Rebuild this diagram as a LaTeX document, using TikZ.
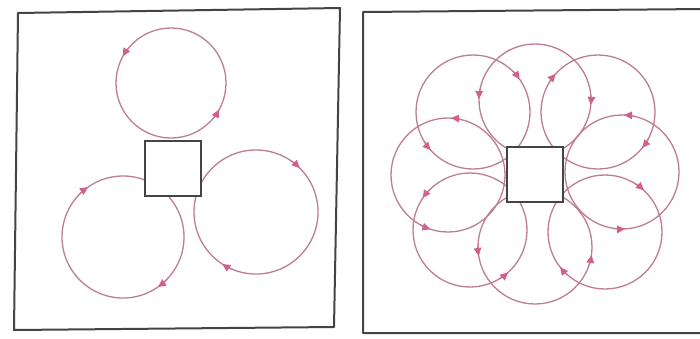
\documentclass[tikz,border=0pt]{standalone}
\usetikzlibrary{arrows.meta}
\definecolor{loopc}{RGB}{190,125,148}
\definecolor{tipc}{RGB}{212,96,136}
\definecolor{framec}{RGB}{68,68,68}
\tikzset{
  loopline/.style={draw=loopc, line width=1.3pt},
  tipline/.style={draw=loopc, line width=1.3pt, -{Triangle[length=8pt,width=7.5pt,color=tipc]}},
  frame/.style={draw=framec, line width=2pt, line join=round},
  box/.style={draw=framec, fill=white, line width=1.8pt},
}
% tip on circle centred at (#1,#2), radius #3, at screen angle #4 (clockwise from east)
\newcommand{\tipcw}[4]{\draw[tipline] (#1,#2) ++({#4-8}:#3) arc[start angle={#4-8}, end angle={#4+3}, radius=#3];}
\newcommand{\tipccw}[4]{\draw[tipline] (#1,#2) ++({#4+8}:#3) arc[start angle={#4+8}, end angle={#4-3}, radius=#3];}
\begin{document}
\begin{tikzpicture}[x=1pt,y=-1pt]
\useasboundingbox (0,0) rectangle (700,338);
\clip (0,0) rectangle (700,338);
\fill[white] (0,0) rectangle (700,338);
% left panel frame
\draw[frame] (18,13) -- (340,8) -- (334,327) -- (14,330) -- cycle;
% right panel frame
\draw[frame] (363,12) -- (704,9) -- (704,333) -- (363,333) -- cycle;
% left panel loops
\draw[loopline] (171,83) circle[radius=55];
\tipccw{171}{83}{55}{212} \tipccw{171}{83}{55}{32}
\draw[loopline] (256,212) circle[radius=62];
\tipcw{256}{212}{62}{312} \tipcw{256}{212}{62}{120}
\draw[loopline] (123,237) circle[radius=61];
\tipcw{123}{237}{61}{232} \tipcw{123}{237}{61}{52}
\node[box, minimum width=56pt, minimum height=55pt, inner sep=0pt] (sqL) at (173,168.5) {};
% right panel loops
\draw[loopline] (473,112) circle[radius=57]; % A
\tipcw{473}{112}{57}{322} \tipccw{473}{112}{57}{141}
\draw[loopline] (535,100) circle[radius=56]; % B
\tipccw{535}{100}{56}{184} \tipcw{535}{100}{56}{2}
\draw[loopline] (598,112) circle[radius=57]; % C
\tipcw{598}{112}{57}{219} \tipcw{598}{112}{57}{36}
\draw[loopline] (622,172) circle[radius=57]; % D
\tipccw{622}{172}{57}{275} \tipccw{622}{172}{57}{90}
\draw[loopline] (605,232) circle[radius=57]; % E
\tipcw{605}{232}{57}{310} \tipcw{605}{232}{57}{139}
\draw[loopline] (535,247) circle[radius=57]; % F
\tipccw{535}{247}{57}{11} \tipccw{535}{247}{57}{174}
\draw[loopline] (470,230) circle[radius=57]; % G
\tipccw{470}{230}{57}{51} \tipccw{470}{230}{57}{217}
\draw[loopline] (448,175) circle[radius=57]; % H
\tipccw{448}{175}{57}{111} \tipccw{448}{175}{57}{276}
\node[box, minimum width=56pt, minimum height=55pt, inner sep=0pt] (sqR) at (535,174.5) {};
\end{tikzpicture}
\end{document}
